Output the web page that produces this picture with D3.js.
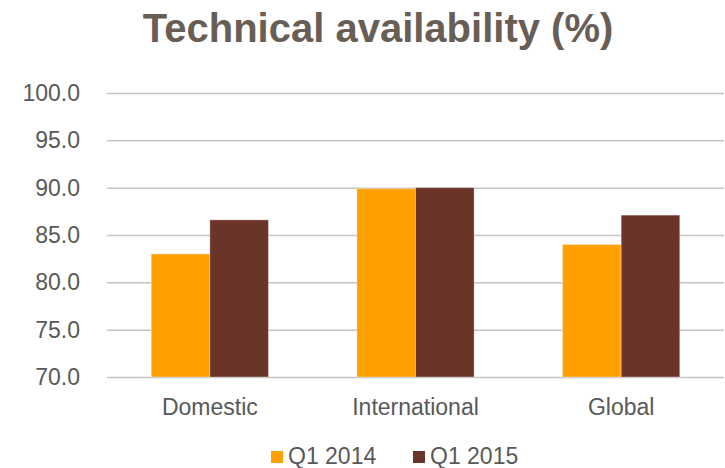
<!DOCTYPE html>
<html>
<head>
<meta charset="utf-8">
<script src="https://cdn.jsdelivr.net/npm/d3@7"></script>
<style>
  body { margin: 0; background: #fff; }
  text { font-family: "Liberation Sans", Arial, sans-serif; }
</style>
</head>
<body>
<div id="chart"></div>
<script>
// data
var categories = ["Domestic", "International", "Global"];
var seriesNames = ["Q1 2014", "Q1 2015"];
var q1_2014 = [83.0, 89.9, 84.0];
var q1_2015 = [86.6, 90.0, 87.1];
var yTicks = [70, 75, 80, 85, 90, 95, 100];

var colors = ["#FFA000", "#6A3428"];

var W = 725, H = 468;
var margin = {top: 93, right: 1, bottom: 91, left: 107};
var width = W - margin.left - margin.right,
    height = H - margin.top - margin.bottom;

var svg = d3.select("#chart").append("svg")
    .attr("width", W)
    .attr("height", H);

// title
svg.append("text")
    .attr("x", 378)
    .attr("y", 42)
    .attr("text-anchor", "middle")
    .style("font-size", "40px")
    .style("font-weight", "bold")
    .style("fill", "#695e55")
    .text("Technical availability (%)");

var g = svg.append("g")
    .attr("transform", "translate(" + margin.left + "," + margin.top + ")");

var x0 = d3.scaleBand()
    .domain(categories)
    .range([0, width])
    .paddingInner(0.43)
    .paddingOuter(0.215);

var x1 = d3.scaleBand()
    .domain(seriesNames)
    .range([0, x0.bandwidth()]);

var y = d3.scaleLinear()
    .domain([70, 100])
    .range([height, 0]);

// gridlines + y labels
var yAxis = d3.axisLeft(y)
    .tickValues(yTicks)
    .tickSize(-width)
    .tickPadding(27)
    .tickFormat(d3.format(".1f"));

var yGroup = g.append("g")
    .attr("class", "axis axis--y")
    .call(yAxis);
yGroup.select(".domain").remove();
yGroup.selectAll(".tick line")
    .attr("stroke", "#c4c4c4")
    .attr("stroke-width", 1.5);
yGroup.selectAll(".tick text")
    .style("font-size", "23px")
    .style("fill", "#595959")
    .attr("font-family", null);

// bars
var rows = categories.map(function(c, i) {
  return {cat: c, values: [
    {name: seriesNames[0], value: q1_2014[i]},
    {name: seriesNames[1], value: q1_2015[i]}
  ]};
});

var groups = g.selectAll("g.cat")
    .data(rows)
  .enter().append("g")
    .attr("class", "cat")
    .attr("transform", function(d) { return "translate(" + x0(d.cat) + ",0)"; });

groups.selectAll("rect")
    .data(function(d) { return d.values; })
  .enter().append("rect")
    .attr("x", function(d) { return x1(d.name); })
    .attr("width", x1.bandwidth())
    .attr("y", function(d) { return y(d.value); })
    .attr("height", function(d) { return height - y(d.value); })
    .style("fill", function(d, i) { return colors[i]; })
    .style("stroke", "#ffffff")
    .style("stroke-opacity", 0.35)
    .style("stroke-width", 1);

// x labels
var xAxis = d3.axisBottom(x0).tickSize(0).tickPadding(22);
var xGroup = g.append("g")
    .attr("class", "axis axis--x")
    .attr("transform", "translate(0," + height + ")")
    .call(xAxis);
xGroup.select(".domain").remove();
xGroup.selectAll(".tick text")
    .style("font-size", "23px")
    .style("fill", "#595959")
    .attr("font-family", null);

// legend
var legendX = [271, 413];
var legend = svg.selectAll("g.legend")
    .data(seriesNames)
  .enter().append("g")
    .attr("class", "legend")
    .attr("transform", function(d, i) { return "translate(" + legendX[i] + ",451)"; });

legend.append("rect")
    .attr("width", 12)
    .attr("height", 12)
    .style("fill", function(d, i) { return colors[i]; });

legend.append("text")
    .attr("x", 17)
    .attr("y", 12.5)
    .style("font-size", "23px")
    .style("fill", "#595959")
    .text(function(d) { return d; });
</script>
</body>
</html>
